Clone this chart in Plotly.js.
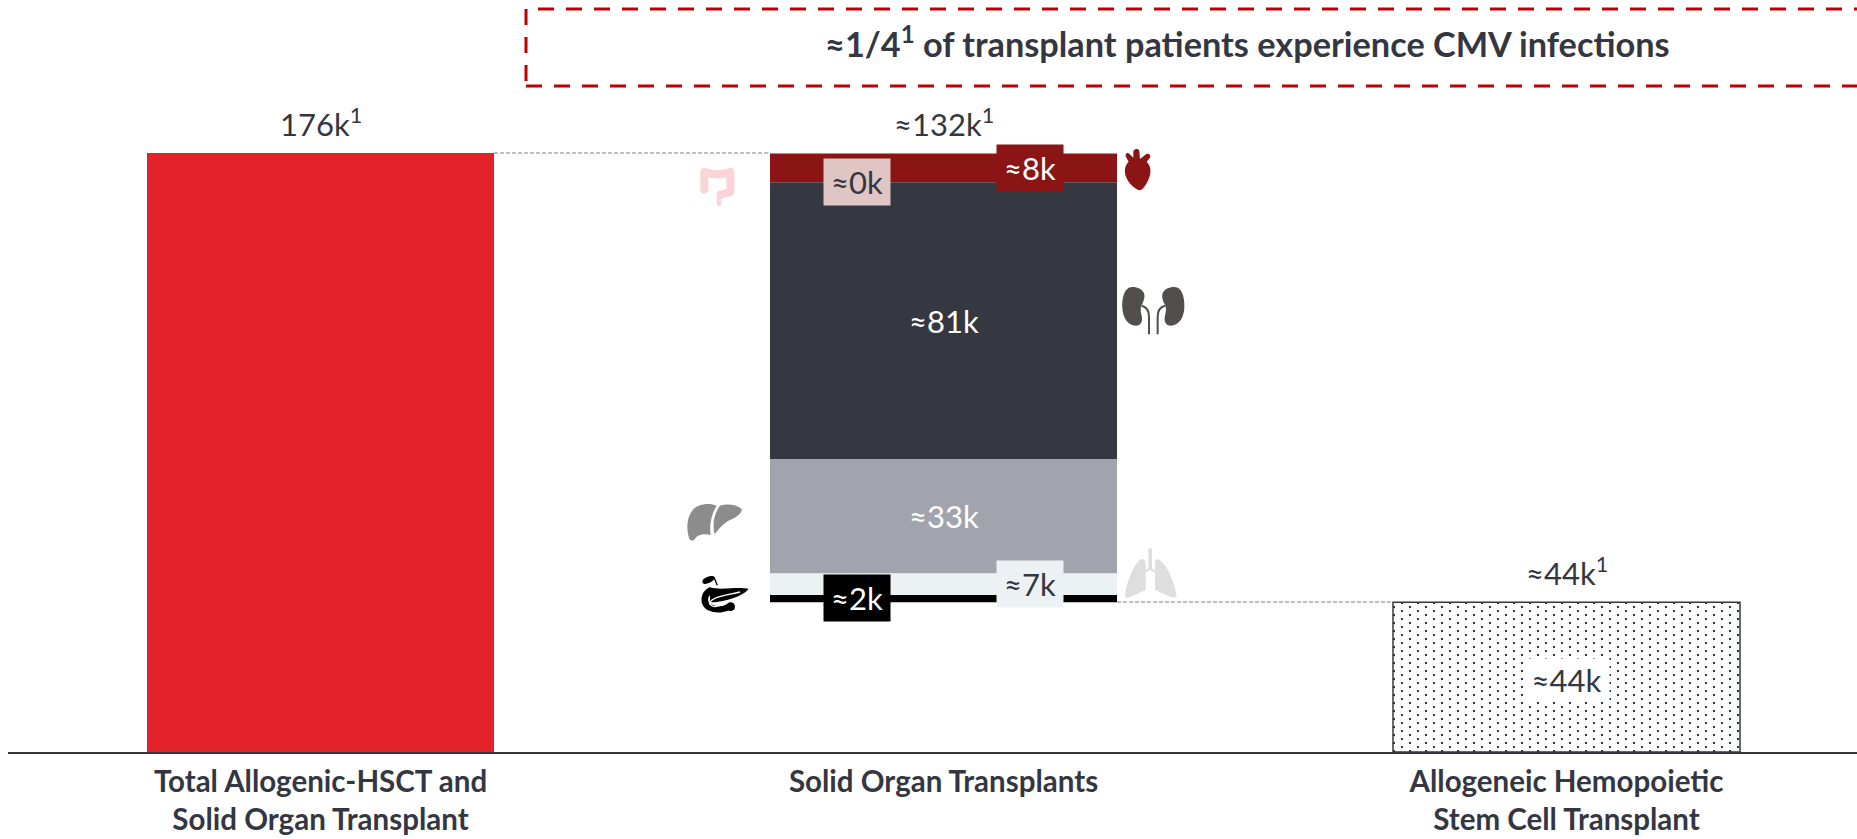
<!DOCTYPE html>
<html><head><meta charset="utf-8">
<script src="https://cdn.plot.ly/plotly-3.0.1.min.js"></script>
<style>html,body{margin:0;padding:0;background:#fff}#c{width:1857px;height:839px}</style>
</head><body><div id="c"></div>
<script>
const categories = ['<b>Total Allogenic-HSCT and</b><br><b>Solid Organ Transplant</b>','<b>Solid Organ Transplants</b>','<b>Allogeneic Hemopoietic</b><br><b>Stem Cell Transplant</b>'];
const totalLabels = ['176k<sup>1</sup>','≈132k<sup>1</sup>','≈44k<sup>1</sup>'];
const totalValue = 176;
const hsctValue = 44;
const hsctLabel = '≈44k';
const organNames = ['Pancreas','Lung','Liver','Kidney','Intestine','Heart'];
const organValues = [2.1,6.4,33.6,81.3,0,8.5];
const organLabels = ['≈2k','≈7k','≈33k','≈81k','≈0k','≈8k'];
const organColors = ['#000000','#ECF1F4','#A2A4AD','#363841','#F9D4D6','#8B1515'];
const headline = '<b>≈1/4<sup>1</sup> of transplant patients experience CMV infections</b>';

const W=1857,H=839,L=8,PB=752,K=3.403,TXT='#343741',FONT='Lato, Carlito, sans-serif',FS=31;
const px=x=>(x-L)/(W-L), py=y=>1-y/PB;
const xc=x=>(x-320.5)/623;
const yv=y=>(PB-y)/K;
const BW=347/623;

const traces=[{type:'bar',x:[0],y:[totalValue],width:[BW],marker:{color:'#E2232A'},hoverinfo:'skip',name:'Total'}];
let base=hsctValue;const bases=[];
organValues.forEach((v,i)=>{bases.push(base);
  traces.push({type:'bar',x:[1],y:[v],base:[base],width:[BW],marker:{color:organColors[i]},name:organNames[i],hoverinfo:'skip'});
  base+=v;});
traces.push({type:'bar',x:[2],y:[hsctValue],width:[BW],name:'HSCT',hoverinfo:'skip',
  marker:{color:'#fff',line:{color:TXT,width:1.5},pattern:{shape:'.',fgcolor:TXT,bgcolor:'#fff',size:8,solidity:0.06}}});

const mid=i=>bases[i]+organValues[i]/2;
const ann=(x,y,text,o={})=>Object.assign({x,y,text,xref:'x',yref:'y',showarrow:false,xanchor:'center',yanchor:'middle',
   font:{family:FONT,size:FS,color:TXT}},o);
const box=(bg,c)=>({bgcolor:bg,width:64,height:44,font:{family:FONT,size:FS,color:c}});
const annotations=[
 ann(0,totalValue,totalLabels[0],{yanchor:'bottom',yshift:8}),
 ann(1,base,totalLabels[1],{yanchor:'bottom',yshift:8}),
 ann(2,hsctValue,totalLabels[2],{yanchor:'bottom',yshift:8}),
 ann(1,mid(3),organLabels[3],{font:{family:FONT,size:FS,color:'#fff'}}),
 ann(1,mid(2),organLabels[2],{font:{family:FONT,size:FS,color:'#fff'}}),
 ann(xc(857),yv(181.5),organLabels[4],box('#DFC5C4',TXT)),
 ann(xc(1030),yv(167.5),organLabels[5],box('#8B1515','#fff')),
 ann(xc(857),yv(597.5),organLabels[0],box('#000','#fff')),
 ann(xc(1030),yv(583.5),organLabels[1],box('#ECF1F4',TXT)),
 ann(2,yv(680),hsctLabel,{bgcolor:'#fff',width:83,height:40}),
 {xref:'paper',yref:'paper',x:px(1247),y:py(42),text:headline,showarrow:false,xanchor:'center',yanchor:'middle',font:{family:FONT,size:34.3,color:TXT}}
];

const line=(x0,y0,x1,y1,color,width,dash)=>({type:'line',xref:'paper',yref:'paper',x0:px(x0),x1:px(x1),y0:py(y0),y1:py(y1),line:{color,width,dash}});
const shapes=[
 line(494,153,770,153,'#7f7f7f',1.2,'4px,2px'),
 line(1117,602,1393,602,'#7f7f7f',1.2,'4px,2px'),
 line(538,9,1860,9,'#C00000',3,'16px,12px'),
 line(526,9,526,84,'#C00000',3,'16px,12px'),
 line(526,86,1860,86,'#C00000',3,'16px,12px')
];

const svg=(body)=>'data:image/svg+xml;utf8,'+encodeURIComponent('<svg xmlns="http://www.w3.org/2000/svg" width="240" height="180" viewBox="0 0 240 180">'+body+'</svg>');
const icon=(x,y,body)=>({source:svg(body),xref:'paper',yref:'paper',x:px(x),y:py(y),sizex:80/(W-L),sizey:60/PB,xanchor:'left',yanchor:'top',sizing:'stretch',layer:'above'});
const images=[
 icon(1110,145,'<path fill="#8B1515" d="M70 20C70 12 85 8 88 18L90 42L108 28C114 22 124 30 120 38L110 50C120 60 124 75 120 90C115 110 100 135 90 136C78 135 55 115 48 95C42 78 44 62 56 50L48 36C44 28 52 20 58 26L70 38Z"/>'),
 icon(1115,275,'<g fill="#514E4D"><path d="M52 36C28 36 20 70 22 100C24 130 40 152 62 152C78 152 84 138 80 122C76 108 76 100 80 90C86 78 90 70 88 58C84 42 68 36 52 36Z"/><path d="M178 36C202 36 210 70 208 100C206 130 190 152 168 152C152 152 146 138 150 122C154 108 154 100 150 90C144 78 140 70 142 58C146 42 162 36 178 36Z"/></g><g fill="none" stroke="#514E4D" stroke-width="6"><path d="M80 92C96 96 102 108 102 125L102 178"/><path d="M150 92C134 96 128 108 128 125L128 178"/></g>'),
 icon(1115,545,'<g fill="#DEDEDE"><path d="M80 42C60 50 38 100 30 150C30 158 38 160 48 155L92 135L92 60C92 48 88 40 80 42Z"/><path d="M128 42C150 50 175 100 185 150C185 158 175 160 165 155L120 135L120 60C120 48 122 40 128 42Z"/><rect x="100" y="10" width="11" height="62"/></g><path fill="none" stroke="#DEDEDE" stroke-width="6" d="M92 80L105 70L120 80"/>'),
 icon(680,155,'<path fill="none" stroke="#FAD4D6" stroke-width="24" stroke-linejoin="round" stroke-linecap="round" d="M73 104L73 50C100 60 130 60 151 50L151 112L122 118"/><path fill="none" stroke="#FAD4D6" stroke-width="14" stroke-linecap="round" d="M117 118L117 146"/>'),
 icon(680,495,'<g fill="#8C8C8C"><path d="M110 32C85 22 50 28 36 48C22 68 18 95 26 125C30 140 40 140 46 130C52 122 60 120 70 118C78 118 86 120 92 120C88 95 92 60 110 32Z"/><path d="M120 32C140 26 170 28 185 42C188 52 170 68 150 75C130 85 118 100 104 118C96 90 102 55 120 32Z"/></g>'),
 icon(690,570,'<path d="M40 28C50 18 70 14 74 22C76 32 52 44 42 42C36 40 36 32 40 28Z"/><path fill="none" stroke="#000" stroke-width="4" d="M72 22L82 46"/><path fill="none" stroke="#000" stroke-width="20" d="M64 60C40 72 38 100 58 112C80 122 105 118 122 108"/><path d="M60 52C90 62 140 50 176 56C165 72 130 88 85 95C70 98 60 96 60 96Z"/><circle cx="122" cy="110" r="13"/><path fill="none" stroke="#fff" stroke-width="4" d="M58 100C68 80 100 78 150 66M58 100C68 115 90 110 100 100"/>')
];

const layout={width:W,height:H,margin:{l:L,r:0,t:0,b:H-PB,pad:0},paper_bgcolor:'#fff',plot_bgcolor:'#fff',showlegend:false,barmode:'overlay',
 font:{family:FONT,color:TXT},
 xaxis:{type:'linear',range:[xc(L),xc(W)],tickmode:'array',tickvals:[0,1,2],ticktext:categories,showgrid:false,zeroline:false,showline:true,linecolor:TXT,linewidth:1.5,
   ticks:'outside',ticklen:3,tickcolor:'rgba(0,0,0,0)',tickangle:0,tickfont:{family:FONT,size:29.5,color:TXT},automargin:false},
 yaxis:{range:[0,PB/K],visible:false,fixedrange:true},
 annotations,shapes,images};
Plotly.newPlot('c',traces,layout,{displayModeBar:false,staticPlot:true}).then(gd=>{
  // the reference's dot fill is staggered: re-lay the library's dot tile as two offset dots
  gd.querySelectorAll('defs pattern').forEach(p=>{
    const ns='http://www.w3.org/2000/svg';
    p.setAttribute('width',16);p.setAttribute('height',8);
    while(p.firstChild)p.removeChild(p.firstChild);
    const r=(x,y,w,h,f)=>{const e=document.createElementNS(ns,'rect');e.setAttribute('x',x);e.setAttribute('y',y);e.setAttribute('width',w);e.setAttribute('height',h);e.setAttribute('fill',f);p.appendChild(e);};
    r(0,0,16,8,'#fff');r(1,2,2,2,TXT);r(9,6,2,2,TXT);
  });
});
</script></body></html>
